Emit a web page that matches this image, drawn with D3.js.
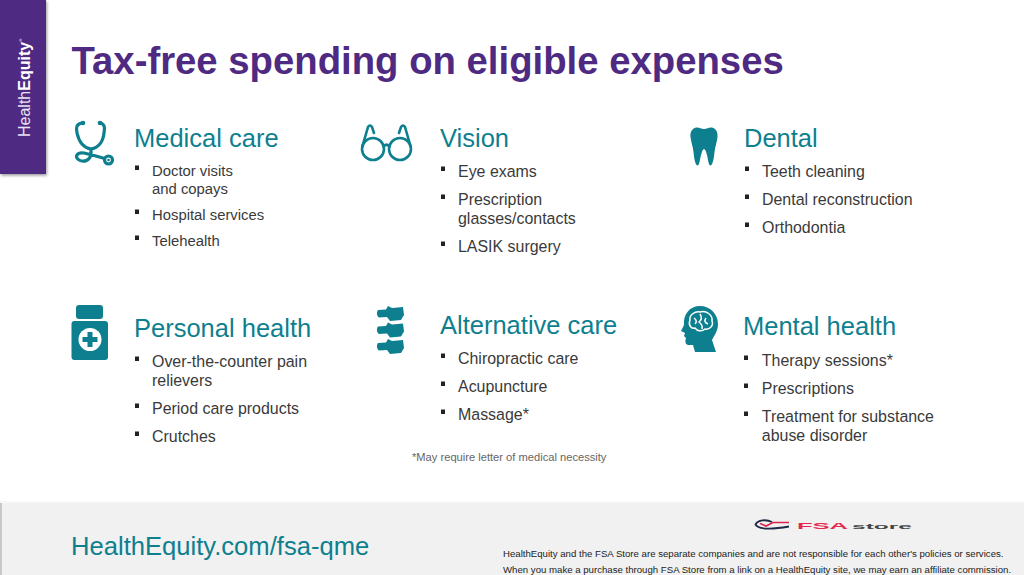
<!DOCTYPE html>
<html><head><meta charset="utf-8">
<script src="https://cdn.jsdelivr.net/npm/d3@7/dist/d3.min.js"></script>
<style>html,body{margin:0;padding:0;background:#fff;overflow:hidden}svg{display:block}text{font-family:"Liberation Sans",Arial,sans-serif}</style>
</head><body><div id="c"></div>
<script>
const titleText = "Tax-free spending on eligible expenses";
const categories = ["Medical care","Vision","Dental","Personal health","Alternative care","Mental health"];
const medicalItems = [["Doctor visits","and copays"],["Hospital services"],["Telehealth"]];
const visionItems = [["Eye exams"],["Prescription","glasses/contacts"],["LASIK surgery"]];
const dentalItems = [["Teeth cleaning"],["Dental reconstruction"],["Orthodontia"]];
const personalItems = [["Over-the-counter pain","relievers"],["Period care products"],["Crutches"]];
const alternativeItems = [["Chiropractic care"],["Acupuncture"],["Massage*"]];
const mentalItems = [["Therapy sessions*"],["Prescriptions"],["Treatment for substance","abuse disorder"]];
const itemLists = [medicalItems,visionItems,dentalItems,personalItems,alternativeItems,mentalItems];
const footnote = "*May require letter of medical necessity";
const footerLink = "HealthEquity.com/fsa-qme";
const disclaimer = ["HealthEquity and the FSA Store are separate companies and are not responsible for each other's policies or services.",
  "When you make a purchase through FSA Store from a link on a HealthEquity site, we may earn an affiliate commission."];

const TEAL="#0e7f8f", PURPLE="#4f2a82", DARK="#3a3a3a";
const layout=[
 {x:134,ty:147,fy:176,fs:14.85,lh:18,gap:26},
 {x:440,ty:147,fy:177,fs:15.95,lh:19,gap:28},
 {x:744,ty:147,fy:177,fs:15.95,lh:19,gap:28},
 {x:134,ty:337,fy:367,fs:15.95,lh:19,gap:28},
 {x:440,ty:334,fy:364,fs:15.95,lh:19,gap:28},
 {x:743,ty:335,fy:366,fs:15.95,lh:19,gap:28}];

const svg=d3.select("#c").append("svg").attr("width",1024).attr("height",575);
const defs=svg.append("defs");
const f=defs.append("filter").attr("id","sh").attr("x","-20%").attr("y","-10%").attr("width","150%").attr("height","120%");
f.append("feDropShadow").attr("dx",1).attr("dy",1.5).attr("stdDeviation",1.5).attr("flood-color","#000").attr("flood-opacity",.4);

// footer
svg.append("rect").attr("x",0).attr("y",503).attr("width",1024).attr("height",72).attr("fill","#f1f1f1");
svg.append("rect").attr("x",0).attr("y",503).attr("width",2).attr("height",72).attr("fill","#c9c9c9");
svg.append("rect").attr("x",0).attr("y",501).attr("width",1024).attr("height",2).attr("fill","#f8f8f8");
svg.append("text").attr("x",71).attr("y",555).attr("font-size",25.6).attr("fill",TEAL).text(footerLink);
svg.selectAll("text.d").data(disclaimer).join("text").attr("class","d").attr("x",503).attr("y",(d,i)=>557+i*16).attr("font-size",9.63).attr("fill","#222").text(d=>d);

// sidebar
svg.append("rect").attr("x",0).attr("y",0).attr("width",46).attr("height",174).attr("fill",PURPLE).attr("filter","url(#sh)");
const lg=svg.append("text").attr("transform","translate(29.5,137) rotate(-90)").attr("font-size",16).attr("fill","#fff");
lg.append("tspan").attr("fill","#e9e4f2").text("Health");lg.append("tspan").attr("font-weight","bold").text("Equity");
lg.append("tspan").attr("font-size",4).attr("dy",-8).text("®");

// title
svg.append("text").attr("x",71.5).attr("y",74).attr("font-size",38.3).attr("font-weight","bold").attr("fill",PURPLE).text(titleText);

// cards
const cards=svg.selectAll("g.card").data(categories).join("g").attr("class","card");
cards.each(function(name,i){
  const g=d3.select(this),L=layout[i];
  g.append("text").attr("x",L.x).attr("y",L.ty).attr("font-size",25.5).attr("fill",TEAL).text(name);
  let y=L.fy;
  itemLists[i].forEach(lines=>{
    g.append("rect").attr("x",L.x+1).attr("y",y-10.5).attr("width",4).attr("height",4.5).attr("fill","#222");
    lines.forEach((t,k)=>{
      g.append("text").attr("x",L.x+18+(i==5?.8:0)).attr("y",y+k*L.lh).attr("font-size",L.fs).attr("fill",DARK).text(t);
    });
    y+=(lines.length-1)*L.lh+L.gap;
  });
});
svg.append("text").attr("x",412).attr("y",461).attr("font-size",11.15).attr("fill","#666").text(footnote);

// icons
const ic=svg.append("g");
const st=ic.append("g").attr("fill","none").attr("stroke",TEAL).attr("stroke-width",3.2).attr("stroke-linecap","round").attr("stroke-linejoin","round");
st.append("path").attr("d","M82 123 C76 124 76 128 77 133 C79 142 84 148 91 149 C98 148 103 142 104 133 C105 128 105 124 100 123");
st.append("path").attr("d","M91 149 L91 153 C91 160 84 163 79 160 C74 157 77 152 84 153 L94 155.5 L103 158");
st.append("circle").attr("cx",108.5).attr("cy",160).attr("r",4);
ic.append("circle").attr("cx",108.5).attr("cy",160).attr("r",1.3).attr("fill",TEAL);
ic.append("circle").attr("cx",83).attr("cy",123).attr("r",2.3).attr("fill",TEAL);
ic.append("circle").attr("cx",100).attr("cy",123).attr("r",2.3).attr("fill",TEAL);
const gl=ic.append("g").attr("fill","none").attr("stroke",TEAL).attr("stroke-width",2.6).attr("stroke-linecap","round");
gl.append("circle").attr("cx",373).attr("cy",149).attr("r",11);
gl.append("circle").attr("cx",400).attr("cy",149).attr("r",11);
gl.append("path").attr("d","M384 146 Q386.5 143.5 389 146");
gl.append("path").attr("d","M362.5 146 L368 127 Q370 124 372 127 L374 133");
gl.append("path").attr("d","M410.5 146 L405 127 Q403 124 401 127 L399 133");
ic.append("path").attr("fill",TEAL).attr("d","M696 127.5 C699 127 701 129 704 129 C707 129 709 127 712 127.5 C716 128.5 718 132 717.5 137 C717 142 715 147 714.5 152 C714 157 713 165 710.5 165.5 C708.5 165.5 708 159 707 155 C706 151 705 149 704 149 C703 149 702 151 701 155 C700 159 699.5 165.5 697.5 165.5 C695 165 694 157 693.5 152 C693 147 691 142 690.5 137 C690 132 692 128.5 696 127.5Z");
ic.append("rect").attr("x",76).attr("y",305).attr("width",27).attr("height",14).attr("rx",3).attr("fill",TEAL);
ic.append("rect").attr("x",71.5).attr("y",321).attr("width",36.5).attr("height",39).attr("rx",3).attr("fill",TEAL);
ic.append("circle").attr("cx",90).attr("cy",339.5).attr("r",11.5).attr("fill","#fff");
ic.append("path").attr("fill",TEAL).attr("d","M87.5 332h5v5h5v5h-5v5h-5v-5h-5v-5h5z");
[0,1,2].forEach(k=>{
  ic.append("path").attr("fill",TEAL).attr("transform",`translate(0,${k*16.5})`).attr("d","M378 310 L386 309.5 L388 306 L392 308 L403 307 L404 315 L401 320 L390 321 L387 317 L379 317.5 C376.5 316 376.5 312 378 310Z");
});
ic.append("path").attr("fill",TEAL).attr("d","M700 306 C710 306 718 314 718 324 C718 331 714 336 712 340 L716 352 L695 352 L693 345 L688 345 C685 344 685 341 686 338 L684 336 L685 333 L681 331 L684 325 C683 314 690 306 700 306Z");
const br=ic.append("g").attr("fill","none").attr("stroke","#fff").attr("stroke-width",1.5);
br.append("path").attr("d","M690 320 C689 315 695 311 700 312 C706 310 713 315 712 321 C714 326 709 330 705 329 C702 332 697 331 695 328 C691 329 688 325 690 320Z");
br.append("path").attr("d","M694 318 Q698 321 695 324 M700 314 Q703 319 699 322 Q703 325 702 329 M706 318 Q703 322 708 324");
const lo=svg.append("g");
lo.append("path").attr("d","M772 522 C766 519 758 520 755.5 524.5 C758 529 768 530 789 526.5").attr("fill","none").attr("stroke","#1f2a44").attr("stroke-width",1.8);
lo.append("path").attr("d","M760 523.5 L766 526 L773 522.5 L789 522.5").attr("fill","none").attr("stroke","#e0234e").attr("stroke-width",1.6);
lo.append("text").attr("x",797).attr("y",529).attr("font-size",9.5).attr("font-weight","bold").attr("fill","#e8274f").attr("textLength",51).attr("lengthAdjust","spacingAndGlyphs").text("FSA");
lo.append("text").attr("x",852).attr("y",528.5).attr("font-size",7.5).attr("font-weight","bold").attr("fill","#444").attr("textLength",60).attr("lengthAdjust","spacingAndGlyphs").text("store");
</script></body></html>
